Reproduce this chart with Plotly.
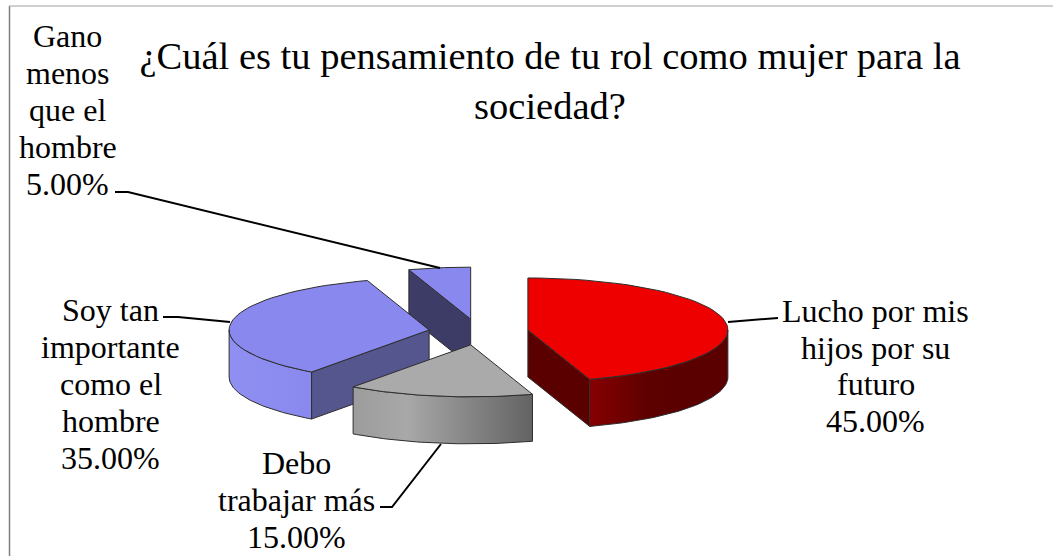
import math
import plotly.graph_objects as go

TITLE = "¿Cuál es tu pensamiento de tu rol como mujer para la<br>sociedad?"
categories = ["Lucho por mis<br>hijos por su<br>futuro", "Debo<br>trabajar más",
              "Soy tan<br>importante<br>como el<br>hombre", "Gano<br>menos<br>que el<br>hombre"]
values = [45, 15, 35, 5]

W, H = 1053, 556
CX, CY = 478.5, 332    # pie centre on screen
RX, RY = 200, 52       # tilted ellipse
DEPTH = 47
PULL = 0.25
FONT = "Liberation Serif"
LABEL_SIZE = 32
LINE_STEP = 36.8

styles = [
    dict(top="#ee0000", side="#5a0000",
         wall=[[0, "#860000"], [0.45, "#5c0000"], [1, "#5a0000"]]),
    dict(top="#aaaaaa", side="#777777",
         wall=[[0, "#9c9c9c"], [0.3, "#a8a8a8"], [1, "#636363"]]),
    dict(top="#8888ee", side="#56568f",
         wall=[[0, "#9090f2"], [1, "#8888ee"]]),
    dict(top="#8888ee", side="#3c3c66",
         wall=[[0, "#8888ee"], [1, "#8888ee"]]),
]
label_pos = [(875.5, 366), (296, 500), (110.5, 384), (67.5, 110)]
leaders = [
    [(728, 322), (762, 319), (778, 318)],
    [(380, 507), (392, 507), (441, 444)],
    [(163, 317), (178, 317), (230, 322)],
    [(115, 192), (128, 192), (440, 268)],
]
DRAW_ORDER = [3, 2, 0, 1]   # back to front


def pt(c, a, drop=0.0):
    r = math.radians(a)
    return c[0] + RX * math.sin(r), c[1] - RY * math.cos(r) + drop


def arc(c, a0, a1, drop=0.0, n=48):
    return [pt(c, a0 + (a1 - a0) * i / n, drop) for i in range(n + 1)]


def poly(points, name, fill=None, gradient=None):
    xs = [p[0] for p in points] + [points[0][0]]
    ys = [p[1] for p in points] + [points[0][1]]
    kw = dict(fillgradient=dict(type="horizontal", colorscale=gradient)) if gradient else dict(fillcolor=fill)
    return go.Scatter(x=xs, y=ys, mode="lines", fill="toself", name=name, hoverinfo="name",
                      line=dict(color="#2e2e2e", width=1), showlegend=False, **kw)


total = sum(values)
angles, acc = [], 0.0
for v in values:
    angles.append((acc, acc + 360.0 * v / total))
    acc += 360.0 * v / total

fig = go.Figure()
annotations = []
for i in DRAW_ORDER:
    a0, a1 = angles[i]
    mid = (a0 + a1) / 2
    r = math.radians(mid)
    c = (CX + PULL * RX * math.sin(r), CY - PULL * RY * math.cos(r))
    name = categories[i].replace("<br>", " ") + f" {values[i]:.2f}%"
    st = styles[i]
    # radial walls that face the viewer
    if math.sin(math.radians(a0)) < -1e-6:
        p = pt(c, a0)
        fig.add_trace(poly([c, p, (p[0], p[1] + DEPTH), (c[0], c[1] + DEPTH)], name, fill=st["side"]))
    if math.sin(math.radians(a1)) > 1e-6:
        p = pt(c, a1)
        fig.add_trace(poly([c, p, (p[0], p[1] + DEPTH), (c[0], c[1] + DEPTH)], name, fill=st["side"]))
    # outer curved wall, front half of the ellipse only
    lo, hi = max(a0, 90), min(a1, 270)
    if hi > lo:
        outer = arc(c, lo, hi) + arc(c, hi, lo, DEPTH)
        fig.add_trace(poly(outer, name, gradient=st["wall"]))
    # top face
    fig.add_trace(poly([c] + arc(c, a0, a1), name, fill=st["top"]))

for i, cat in enumerate(categories):
    lines = cat.split("<br>") + [f"{values[i]:.2f}%"]
    y0 = label_pos[i][1] - LINE_STEP * (len(lines) - 1) / 2
    for k, line in enumerate(lines):
        annotations.append(dict(x=label_pos[i][0], y=y0 + k * LINE_STEP, xref="x", yref="y",
                                text=line, showarrow=False,
                                xanchor="center", yanchor="middle", align="center",
                                font=dict(family=FONT, size=LABEL_SIZE, color="#000000")))
    fig.add_trace(go.Scatter(x=[p[0] for p in leaders[i]], y=[p[1] for p in leaders[i]],
                             mode="lines", line=dict(color="#000000", width=2),
                             hoverinfo="skip", showlegend=False))

fig.update_layout(
    width=W, height=H, margin=dict(l=0, r=0, t=0, b=0),
    paper_bgcolor="#ffffff", plot_bgcolor="#ffffff",
    title=dict(text=TITLE, x=550 / W, xanchor="center", y=1 - 69 / H, yanchor="middle",
               font=dict(family=FONT, size=38.5, color="#000000")),
    xaxis=dict(range=[0, W], visible=False, fixedrange=True),
    yaxis=dict(range=[H, 0], visible=False, fixedrange=True),
    annotations=annotations,
    shapes=[
        dict(type="line", xref="x", yref="y", x0=9.5, x1=9.5, y0=6, y1=H, line=dict(color="#808080", width=1.5)),
        dict(type="line", xref="x", yref="y", x0=9, x1=W, y0=6, y1=6, line=dict(color="#a0a0a0", width=1)),
    ],
)
fig.write_html("out.html", config=dict(displayModeBar=False),
               post_script="document.body.style.margin='0';document.body.style.overflow='hidden';")
